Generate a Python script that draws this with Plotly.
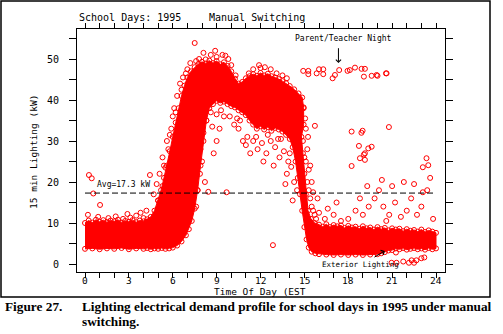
import plotly.graph_objects as go

# ---- data -------------------------------------------------------------
# Outline of the dense cloud of 15-minute readings (hour of day, kW):
# upper edge left to right, then lower edge right to left.
cloud_hour = [
    0.0, 0.25, 0.5, 0.75, 1.0, 1.25, 1.5, 1.75, 2.0, 2.25, 2.5, 2.75, 3.0, 3.25,
    3.5, 3.75, 4.0, 4.25, 4.5, 4.75, 5.0, 5.2, 5.4, 5.6, 5.8, 6.0, 6.2, 6.4, 6.6,
    6.8, 7.0, 7.25, 7.5, 7.75, 8.0, 8.25, 8.5, 8.75, 9.0, 9.25, 9.5, 9.75, 10.0,
    10.25, 10.5, 10.75, 11.0, 11.25, 11.5, 11.75, 12.0, 12.25, 12.5, 12.75, 13.0,
    13.25, 13.5, 13.75, 14.0, 14.3, 14.6, 14.85, 14.95, 14.95, 14.8, 14.9, 15.0,
    15.1, 15.25, 15.45, 15.7, 16.0, 16.25, 16.5, 16.75, 17.0, 17.25, 17.5, 17.75,
    18.0, 18.25, 18.5, 18.75, 19.0, 19.25, 19.5, 19.75, 20.0, 20.25, 20.5, 20.75,
    21.0, 21.25, 21.5, 21.75, 22.0, 22.25, 22.5, 22.75, 23.0, 23.25, 23.5, 23.75,
    24.0,
    24.0, 23.75, 23.5, 23.25, 23.0, 22.75, 22.5, 22.25, 22.0, 21.75, 21.5, 21.25,
    21.0, 20.75, 20.5, 20.25, 20.0, 19.5, 19.0, 18.5, 18.0, 17.5, 17.0, 16.5,
    16.0, 15.75, 15.5, 15.3, 15.15, 15.0, 14.85, 14.7, 14.55, 14.4, 14.2, 14.0,
    13.75, 13.5, 13.25, 13.0, 12.75, 12.5, 12.25, 12.0, 11.75, 11.5, 11.25, 11.0,
    10.75, 10.5, 10.25, 10.0, 9.75, 9.5, 9.25, 9.0, 8.75, 8.5, 8.3, 8.1, 7.9,
    7.7, 7.5, 7.3, 7.1, 6.9, 6.6, 6.3, 6.0, 5.75, 5.5, 5.25, 5.0, 4.75, 4.5,
    4.25, 4.0, 3.5, 3.0, 2.5, 2.0, 1.5, 1.0, 0.5, 0.0,
]
cloud_kw = [
    10.0, 10.6, 10.1, 10.8, 10.3, 10.7, 10.2, 10.6, 10.4, 10.8, 10.1, 10.5, 10.3,
    10.7, 10.2, 10.6, 10.4, 10.9, 11.5, 13.0, 15.5, 18.0, 21.0, 24.0, 27.5, 31.0,
    34.5, 38.0, 41.0, 43.5, 45.5, 47.0, 48.0, 48.8, 49.3, 48.9, 49.6, 49.0, 49.5,
    48.7, 49.2, 48.3, 47.0, 45.2, 44.0, 44.4, 45.3, 45.8, 46.3, 45.9, 46.6, 46.0,
    46.4, 45.8, 45.5, 45.1, 44.6, 44.1, 43.4, 42.6, 41.6, 40.6, 38.2, 34.0, 31.0,
    27.0, 22.0, 17.0, 13.0, 11.0, 10.0, 9.6, 9.1, 9.7, 9.0, 9.5, 9.2, 9.4, 8.8,
    9.3, 8.9, 9.1, 8.6, 9.2, 8.7, 8.9, 8.4, 9.0, 8.5, 8.8, 8.2, 8.7, 8.4, 8.6,
    8.0, 8.5, 8.1, 8.3, 7.9, 8.4, 7.8, 8.2, 7.9, 7.6,
    3.8, 3.6, 3.9, 3.5, 3.8, 3.6, 3.9, 3.7, 3.5, 3.9, 3.6, 3.8, 3.4, 3.3, 2.9,
    2.6, 2.4, 2.3, 2.2, 2.3, 2.2, 2.3, 2.2, 2.3, 2.4, 2.6, 3.0, 4.0, 6.0, 9.0,
    13.0, 17.0, 21.0, 25.0, 28.5, 30.5, 31.5, 32.3, 32.8, 33.2, 32.5, 33.4, 32.8,
    33.6, 33.0, 34.0, 35.0, 36.3, 37.0, 37.5, 38.2, 38.5, 39.0, 39.6, 39.3, 39.8,
    39.0, 38.0, 35.0, 30.0, 24.0, 18.0, 13.5, 10.5, 8.5, 7.0, 5.5, 4.5, 4.0, 3.8,
    3.7, 3.9, 3.7, 3.8, 3.6, 3.9, 3.7, 3.8, 3.6, 3.9, 3.7, 3.8, 3.6, 3.8, 3.7,
]

# Individual readings lying outside the dense cloud (hour of day, kW)
spot_hour = [
    # early morning
    0.27, 0.46, 0.57, 1.03, 0.2, 0.9, 1.6, 2.1, 2.6, 3.1, 3.5, 4.0, 4.44, 4.2,
    3.8, 2.9,
    # morning ramp, leading side
    4.7, 4.9, 5.1, 5.3, 5.4, 5.6, 5.7, 5.9, 6.0, 6.1, 6.3, 6.5, 6.7, 7.0, 7.2,
    7.5, 5.0, 5.3, 5.5, 5.8, 6.2, 6.6, 6.9,
    # below the morning plateau
    7.86, 8.43, 9.68, 7.9, 8.1, 8.3, 8.6, 9.0, 8.0, 7.7, 7.6, 8.2, 9.2, 9.5,
    10.2, 10.5, 10.8, 11.0, 11.3, 11.1, 10.6, 8.8, 9.0, 9.9, 10.4, 8.7, 9.3,
    # above the plateau
    8.25, 8.6, 9.0, 9.4, 7.8, 8.9, 9.8, 10.0, 10.3, 11.5, 11.9, 12.3, 12.7,
    13.1, 13.5, 11.2, 7.6, 8.1, 9.6, 12.0, 13.8,
    # below the afternoon block
    11.5, 11.8, 12.1, 12.4, 12.7, 13.0, 13.3, 13.6, 13.9, 14.1, 13.8, 14.3,
    12.9, 12.2, 13.4, 12.85, 14.5, 14.2, 13.7, 11.7, 12.5, 13.2, 14.0,
    # afternoon drop-off
    14.9, 15.0, 15.1, 15.2, 15.3, 15.4, 15.5, 15.6, 15.7, 15.8, 16.0, 15.2,
    15.3, 15.1, 14.95, 15.72, 15.5, 15.9, 15.4, 15.05, 15.25, 15.6,
    # parent/teacher night
    14.92, 15.27, 15.27, 15.84, 16.0, 16.29, 16.29, 16.93, 17.09, 17.38, 17.95,
    18.11, 18.46, 18.91, 19.14, 19.07, 19.6, 19.94, 20.0, 20.62, 20.58,
    # evening
    18.23, 18.98, 18.9, 20.78, 18.73, 19.37, 19.6, 19.14, 19.07, 18.8, 19.14,
    18.23, 23.35, 23.47, 23.1,
    17.0, 17.5, 18.0, 18.5, 19.0, 19.4, 19.8, 20.1, 20.4, 20.8, 21.2, 21.6,
    22.0, 22.3, 22.7, 23.0, 23.4, 23.6, 23.8, 20.3, 21.0, 21.8, 22.5, 23.1,
    17.2, 16.6, 18.8, 19.3, 16.4, 20.6,
    # late evening, below the band
    20.96, 21.3, 21.76, 22.15, 22.33, 22.5, 22.66, 23.0, 23.2, 21.26,
]
spot_kw = [
    21.7, 20.9, 17.2, 14.4, 12.0, 11.5, 11.2, 11.6, 11.0, 11.3, 11.8, 11.2,
    21.7, 13.0, 12.5, 12.2,
    17.0, 19.5, 22.0, 26.0, 24.0, 30.0, 28.0, 33.0, 36.0, 38.0, 41.0, 44.0,
    45.5, 47.5, 49.0, 53.9, 15.5, 19.0, 23.5, 31.5, 37.0, 42.5, 46.5,
    22.0, 17.6, 17.5, 28.0, 32.0, 35.0, 37.0, 36.5, 25.0, 18.0, 14.0, 20.0,
    33.0, 36.0, 34.0, 33.0, 30.0, 29.0, 27.0, 31.0, 35.0, 27.0, 30.0, 36.0,
    35.5, 33.5, 37.5,
    49.9, 51.0, 50.5, 51.0, 50.0, 52.0, 50.0, 48.5, 46.0, 47.5, 48.5, 48.0,
    47.5, 46.5, 46.0, 46.5, 49.5, 51.5, 50.8, 47.8, 45.3,
    30.0, 28.0, 29.5, 27.0, 30.0, 28.5, 26.0, 27.5, 25.0, 23.7, 22.0, 20.0,
    24.0, 25.0, 30.5, 4.6, 18.0, 15.5, 19.5, 31.0, 31.5, 30.5, 27.0,
    30.0, 26.0, 25.0, 20.0, 18.0, 16.0, 14.0, 13.0, 12.0, 11.0, 12.5, 28.0,
    23.0, 33.0, 38.0, 33.7, 20.0, 16.0, 24.0, 35.5, 31.0, 17.5,
    47.1, 47.1, 46.3, 46.5, 47.5, 47.5, 46.3, 45.3, 46.1, 47.3, 47.1, 47.3,
    47.9, 47.6, 47.6, 45.7, 45.9, 46.1, 45.9, 46.5, 46.5,
    32.3, 32.5, 32.0, 33.4, 28.8, 28.2, 28.6, 27.0, 26.7, 25.8, 25.4, 23.9,
    25.8, 24.1, 23.6,
    12.0, 10.5, 11.0, 13.0, 12.0, 14.0, 16.0, 18.0, 14.0, 12.0, 15.0, 11.5,
    13.0, 16.0, 12.0, 14.0, 18.0, 21.0, 11.0, 20.5, 19.0, 20.0, 19.5, 17.5,
    15.0, 13.5, 16.0, 19.0, 11.0, 10.5,
    0.3, 0.3, 0.6, 0.3, 0.9, 0.3, 0.9, 1.4, 1.6, 2.8,
]

avg_kw = 17.3
x_ticks = list(range(0, 25))
x_labels = list(range(0, 25, 3))
y_ticks = list(range(0, 60, 5))

# ---- layout geometry (pixels) ----------------------------------------
W, H = 503, 334
L, R, T, B = 77, 445, 29, 272
px_per_h = 351 / 24.0
px_per_kw = 4.1
x_range = [-(85 - L) / px_per_h, 24 + (R - 436) / px_per_h]
y_range = [-(B - 264) / px_per_kw, (264 - T) / px_per_kw]


def px(xp):
    return (xp - L) / (R - L)


def py(yp):
    return (B - yp) / (B - T)


RED = "#ff0000"
MONO = "DejaVu Sans Mono"

fig = go.Figure()

fig.add_trace(go.Scatter(
    x=cloud_hour, y=cloud_kw, mode="lines+markers", fill="toself",
    fillcolor=RED, line=dict(color=RED, width=1),
    marker=dict(symbol="circle-open", size=5, color=RED, line=dict(width=1)),
    hoverinfo="skip", showlegend=False,
))
fig.add_trace(go.Scatter(
    x=spot_hour, y=spot_kw, mode="markers",
    marker=dict(symbol="circle-open", size=5, color=RED, line=dict(width=1)),
    showlegend=False,
))

# average line
fig.add_shape(type="line", xref="x", yref="y", x0=0, x1=24, y0=avg_kw, y1=avg_kw,
              line=dict(color="black", width=1, dash="6px,3px"))

# outer frame
fig.add_shape(type="rect", xref="paper", yref="paper",
              x0=px(1), x1=px(490), y0=py(297), y1=py(1),
              line=dict(color="black", width=1.5))

ann = []
for h in x_labels:
    ann.append(dict(x=h, y=py(280.5), xref="x", yref="paper", text=str(h),
                    showarrow=False, xanchor="center", yanchor="middle",
                    font=dict(family=MONO, size=9.5, color="black")))
ann.append(dict(x=0.68, y=avg_kw + 2.0, xref="x", yref="y", text=f"Avg={avg_kw} kW",
                showarrow=False, xanchor="left", yanchor="middle",
                font=dict(family=MONO, size=8, color="black")))
ann.append(dict(x=px(77), y=py(17), xref="paper", yref="paper",
                text="School Days: 1995", showarrow=False, xanchor="left",
                yanchor="middle", font=dict(family=MONO, size=10, color="black")))
ann.append(dict(x=px(257), y=py(17), xref="paper", yref="paper",
                text="Manual Switching", showarrow=False, xanchor="center",
                yanchor="middle", font=dict(family=MONO, size=10, color="black")))
ann.append(dict(x=px(33), y=py(152), xref="paper", yref="paper",
                text="15 min Lighting (kW)", showarrow=False, textangle=-90,
                xanchor="center", yanchor="middle",
                font=dict(family=MONO, size=9.5, color="black")))
ann.append(dict(x=px(260), y=py(291.5), xref="paper", yref="paper",
                text="Time Of Day (EST", showarrow=False, xanchor="center",
                yanchor="middle", borderpad=0,
                font=dict(family=MONO, size=9.5, color="black")))
# callouts
ann.append(dict(x=17.7, y=55.1, xref="x", yref="y", text="Parent/Teacher Night",
                showarrow=False, xanchor="center", yanchor="middle",
                font=dict(family=MONO, size=8, color="black")))
ann.append(dict(x=17.33, y=49.0, ax=17.33, ay=53.0, xref="x", yref="y",
                axref="x", ayref="y", text="", showarrow=True, arrowhead=4,
                arrowsize=1, arrowwidth=1, arrowcolor="black"))
ann.append(dict(x=18.83, y=-0.1, xref="x", yref="y", text="Exterior Lighting",
                showarrow=False, xanchor="center", yanchor="middle",
                font=dict(family=MONO, size=7.5, color="black")))
ann.append(dict(x=20.5, y=3.2, ax=19.69, ay=1.46, xref="x", yref="y",
                axref="x", ayref="y", text="", showarrow=True, arrowhead=4,
                arrowsize=1, arrowwidth=1, arrowcolor="black"))
# caption
CAP = dict(family="Liberation Serif", size=13.3, color="black")
ann.append(dict(x=px(3), y=py(306), xref="paper", yref="paper",
                text="<b>Figure 27.</b>", showarrow=False, xanchor="left",
                yanchor="middle", font=CAP))
ann.append(dict(x=px(80), y=py(306), xref="paper", yref="paper",
                text="<b>Lighting electrical demand profile for school days in 1995 under manual</b>",
                showarrow=False, xanchor="left", yanchor="middle", font=CAP))
ann.append(dict(x=px(80), y=py(321), xref="paper", yref="paper",
                text="<b>switching.</b>", showarrow=False, xanchor="left",
                yanchor="middle", font=CAP))

fig.update_layout(
    width=W, height=H,
    margin=dict(l=L, r=W - R, t=T, b=H - B, pad=0),
    paper_bgcolor="white", plot_bgcolor="white",
    annotations=ann,
    xaxis=dict(range=x_range, tickvals=x_ticks, showticklabels=False,
               ticks="outside", ticklen=5, tickwidth=1, tickcolor="black",
               showline=True, linecolor="black", linewidth=1, mirror="ticks",
               showgrid=False, zeroline=False),
    yaxis=dict(range=y_range, tickvals=y_ticks,
               ticktext=[str(v) if v % 10 == 0 else "" for v in y_ticks],
               ticks="outside", ticklen=7, tickwidth=1, tickcolor="black",
               ticklabelstandoff=8,
               showline=True, linecolor="black", linewidth=1, mirror="ticks",
               showgrid=False, zeroline=False,
               tickfont=dict(family=MONO, size=10, color="black")),
)

fig.write_html("out.html")
